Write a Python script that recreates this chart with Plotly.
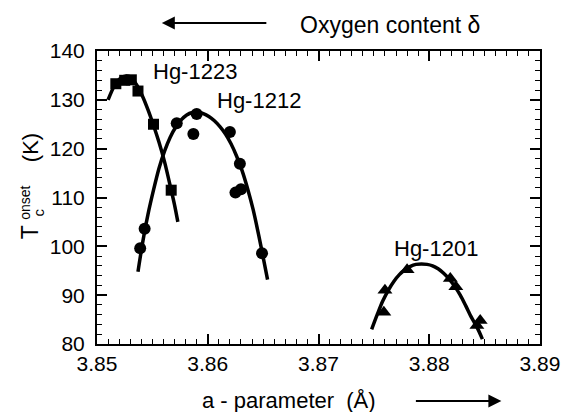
import plotly.graph_objects as go

# ---- data ----
hg1223_x = [3.8517, 3.8525, 3.8531, 3.8537, 3.8551, 3.8567]
hg1223_y = [133.3, 134.0, 134.1, 131.8, 125.0, 111.5]

hg1212_x = [3.8539, 3.8543, 3.8572, 3.8587, 3.8590, 3.8620, 3.8625, 3.8630, 3.8629, 3.8649]
hg1212_y = [99.6, 103.6, 125.2, 123.0, 127.1, 123.4, 111.0, 111.7, 116.9, 98.6]

hg1201_x = [3.8759, 3.8760, 3.8780, 3.8819, 3.8824, 3.8843, 3.8846]
hg1201_y = [86.5, 91.0, 95.2, 93.4, 91.7, 83.8, 84.8]

fit1223_x = [3.8510, 3.8516, 3.8521, 3.8526, 3.8531, 3.8536, 3.8541, 3.8546, 3.8551,
             3.8556, 3.8561, 3.8566, 3.8570, 3.8573]
fit1223_y = [130.0, 133.0, 134.4, 134.9, 134.5, 133.0, 130.8, 128.0, 124.8,
             121.3, 117.3, 112.5, 108.5, 105.0]

fit1212_x = [3.8537, 3.8541, 3.8546, 3.8551, 3.8556, 3.8561, 3.8566, 3.8571, 3.8576,
             3.8581, 3.8586, 3.8591, 3.8596, 3.8601, 3.8606, 3.8611, 3.8616, 3.8621,
             3.8626, 3.8631, 3.8636, 3.8641, 3.8646, 3.8650, 3.8654]
fit1212_y = [94.8, 100.5, 106.5, 111.5, 116.0, 119.5, 122.3, 124.4, 125.9,
             126.9, 127.4, 127.5, 127.2, 126.6, 125.7, 124.5, 123.0, 121.0,
             118.5, 115.5, 111.8, 107.5, 102.3, 97.8, 93.2]

fit1201_x = [3.8748, 3.8753, 3.8758, 3.8763, 3.8768, 3.8773, 3.8778, 3.8783, 3.8788,
             3.8793, 3.8798, 3.8803, 3.8808, 3.8813, 3.8818, 3.8823, 3.8828, 3.8833,
             3.8838, 3.8843, 3.8848]
fit1201_y = [83.0, 86.0, 88.8, 91.0, 92.8, 94.2, 95.2, 95.9, 96.3,
             96.4, 96.3, 96.0, 95.4, 94.5, 93.3, 91.8, 90.0, 87.8,
             85.5, 83.5, 81.0]

x_ticks = [3.85, 3.86, 3.87, 3.88, 3.89]
y_ticks = [80, 90, 100, 110, 120, 130, 140]
x_range = [3.85, 3.89]
y_range = [80, 140]

FONT = "Liberation Sans, Arial, sans-serif"
W, H = 572, 412
L, R, T, B = 96.5, 28, 51, 68
PW, PH = W - L - R, H - T - B


def px(xp, yp):
    return (xp - L) / PW, (H - B - yp) / PH


fig = go.Figure()
for fx, fy in [(fit1223_x, fit1223_y), (fit1212_x, fit1212_y), (fit1201_x, fit1201_y)]:
    fig.add_trace(go.Scatter(x=fx, y=fy, mode="lines",
                             line=dict(color="black", width=3.5, shape="spline", smoothing=0.8),
                             showlegend=False, hoverinfo="skip"))

fig.add_trace(go.Scatter(x=hg1223_x, y=hg1223_y, mode="markers",
                         marker=dict(symbol="square", size=11, color="black"), showlegend=False))
fig.add_trace(go.Scatter(x=hg1212_x, y=hg1212_y, mode="markers",
                         marker=dict(symbol="circle", size=12, color="black"), showlegend=False))
fig.add_trace(go.Scatter(x=hg1201_x, y=hg1201_y, mode="markers",
                         marker=dict(symbol="triangle-up", size=13, color="black"), showlegend=False))
# invisible trace to anchor the mirror (top/right) axes
fig.add_trace(go.Scatter(x=x_range, y=y_range, xaxis="x2", yaxis="y2", mode="markers",
                         marker=dict(opacity=0), showlegend=False, hoverinfo="skip"))

axis_common = dict(showgrid=False, zeroline=False, showline=True, linecolor="black", linewidth=2,
                   ticks="inside", ticklen=10, tickwidth=1.5, tickcolor="black",
                   tickfont=dict(family=FONT, size=21, color="black"))

fig.update_layout(
    xaxis=dict(range=x_range, tickvals=x_ticks, ticktext=[f"{v:.2f}" for v in x_ticks],
               minor=dict(dtick=0.001, ticks="inside", ticklen=5, tickwidth=1.2, tickcolor="black"),
               **axis_common),
    yaxis=dict(range=y_range, tickvals=y_ticks, ticklabelstandoff=6,
               minor=dict(dtick=2, ticks="inside", ticklen=5, tickwidth=1.2, tickcolor="black"),
               **axis_common),
    xaxis2=dict(range=x_range, tickvals=x_ticks, overlaying="x", side="top", anchor="y2",
                showticklabels=False,
                minor=dict(dtick=0.001, ticks="inside", ticklen=5, tickwidth=1.2, tickcolor="black"),
                **axis_common),
    yaxis2=dict(range=y_range, tickvals=y_ticks, overlaying="y", side="right", anchor="x2",
                showticklabels=False,
                minor=dict(dtick=2, ticks="inside", ticklen=5, tickwidth=1.2, tickcolor="black"),
                **axis_common),
)

ann = []


def text(s, xp, yp, size, angle=0, xanchor="center"):
    x, y = px(xp, yp)
    ann.append(dict(text=s, x=x, y=y, xref="paper", yref="paper", showarrow=False,
                    xanchor=xanchor, yanchor="middle", textangle=angle,
                    font=dict(family=FONT, size=size, color="black")))


text("Hg-1223", 196, 71, 22)
text("Hg-1212", 260, 100, 22)
text("Hg-1201", 439, 248, 22)
text("Oxygen content δ", 300, 25, 23, xanchor="left")
text("a - parameter  (Å)", 290, 400, 22)

# y-axis title built from pieces so sub/superscript stack
text("T", 29, 232, 23, angle=-90)
text("onset", 23.5, 203, 14, angle=-90)
text("c", 36.5, 213, 15, angle=-90)
text("(K)", 29, 148, 22, angle=-90)


def arrow(x_head, y_head, x_tail, y_tail):
    x, y = px(x_head, y_head)
    ann.append(dict(x=x, y=y, xref="paper", yref="paper", ax=x_tail - x_head, ay=y_tail - y_head,
                    axref="pixel", ayref="pixel", showarrow=True, arrowhead=2, arrowsize=1.3,
                    arrowwidth=2, arrowcolor="black", text=""))


arrow(162, 23, 268, 23)
arrow(505, 401, 418, 401)

fig.update_layout(width=W, height=H, margin=dict(l=L, r=R, t=T, b=B, pad=0),
                  paper_bgcolor="white", plot_bgcolor="white", annotations=ann,
                  font=dict(family=FONT, color="black"))

fig.write_html("out.html")
